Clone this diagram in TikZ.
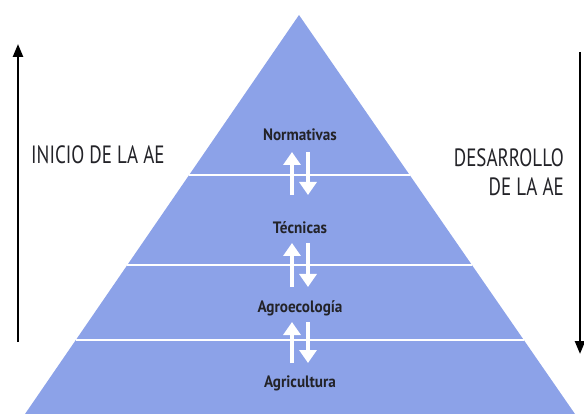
\documentclass[tikz,border=0pt]{standalone}
\usepackage{fontspec}
\setmainfont{PT Sans}[FakeStretch=0.76]
\newfontfamily\nivelfont{PT Sans}[FakeStretch=0.92]
\usetikzlibrary{arrows.meta,calc}
\definecolor{pirblue}{RGB}{140,162,232}
\definecolor{txtgray}{RGB}{35,35,40}
\tikzset{
  nivel/.style={font=\nivelfont\bfseries\fontsize{16.5}{18}\selectfont, text=txtgray, inner sep=1pt},
  lado/.style={font=\fontsize{25}{29}\selectfont, text=txtgray, inner sep=0pt},
  flecha/.style={white, line width=4.5pt, -{Triangle[width=17pt 0,length=13pt 0]}},
  eje/.style={line width=2.4pt, -{Triangle[width=10pt 0,length=13pt 0]}}
}
\begin{document}
\begin{tikzpicture}[x=1pt,y=-1pt, line join=round]
	\useasboundingbox (0,0) rectangle (584,414);
	\coordinate (apex) at (299,15);
	\coordinate (bl) at (25,414);
	\coordinate (br) at (575,414);
	\fill[pirblue] (apex)--(bl)--(br)--cycle;
	% separadores
	\foreach \f in {0.401,0.627,0.815}
		\draw[white, line width=1.6pt] ($(apex)!\f!(bl)$)--($(apex)!\f!(br)$);
	\path
	(300,135) node[nivel] (norm) {Normativas}
	(300,228) node[nivel] (tec) {Técnicas}
	(300,308) node[nivel] (agroeco) {Agroecología}
	(300,383) node[nivel] (agri) {Agricultura};
	% flechas blancas
	\foreach \a/\b in {152/195,243/287,322/363}{
		\coordinate (ua) at (292,\b); \coordinate (ub) at (292,\a);
		\coordinate (da) at (308,\a); \coordinate (db) at (308,\b);
		\draw[flecha] (ua)--(ub);
		\draw[flecha] (da)--(db);
	}
	% ejes laterales
	\coordinate (izqa) at (18,342);
	\coordinate (izqb) at (18,44);
	\coordinate (dera) at (580,52);
	\coordinate (derb) at (580,354);
	\draw[eje] (izqa)--(izqb);
	\draw[eje] (dera)--(derb);
	\path
	(31,155) node[lado, anchor=west] (inicio) {INICIO DE LA AE}
	(564,172) node[lado, anchor=east, align=right] (desarrollo) {DESARROLLO\\DE LA AE};
\end{tikzpicture}
\end{document}
